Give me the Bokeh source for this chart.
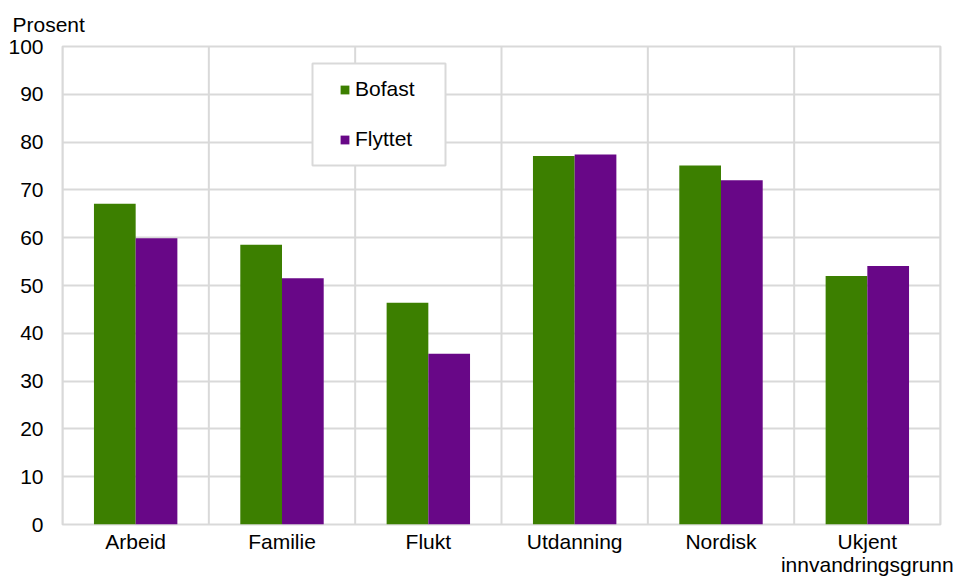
from bokeh.plotting import figure
from bokeh.models import (ColumnDataSource, FactorRange, Range1d, Span, Legend,
                          LegendItem, FixedTicker, Title, BoxAnnotation)
from bokeh.transform import dodge
from bokeh.embed import file_html
from bokeh.resources import INLINE

categories = ["Arbeid", "Familie", "Flukt", "Utdanning", "Nordisk", "Ukjent\ninnvandringsgrunn"]
bofast = [67.1, 58.5, 46.4, 77.1, 75.1, 52.0]
flyttet = [59.9, 51.5, 35.7, 77.4, 72.0, 54.1]
y_ticks = [0, 10, 20, 30, 40, 50, 60, 70, 80, 90, 100]
series_names = ["Bofast", "Flyttet"]
unit_label = "Prosent"

GREEN = "#3c7f00"
PURPLE = "#680787"
GRID = "#d9d9d9"
FONT = "Liberation Sans"
FS = "21px"

W, H = 957, 578
B_LEFT, B_RIGHT, B_TOP, B_BOTTOM = 62, 17, 46, 54

src = ColumnDataSource(dict(cat=categories, bofast=bofast, flyttet=flyttet))

p = figure(x_range=FactorRange(*categories, range_padding=0),
           y_range=Range1d(0, 100),
           width=W, height=H, output_backend="svg", toolbar_location=None,
           min_border_left=B_LEFT, min_border_right=B_RIGHT,
           min_border_top=B_TOP, min_border_bottom=B_BOTTOM)

bw = 0.285
r1 = p.vbar(x=dodge("cat", -bw / 2, range=p.x_range), top="bofast", width=bw,
            source=src, fill_color=GREEN, line_color=None)
r2 = p.vbar(x=dodge("cat", bw / 2, range=p.x_range), top="flyttet", width=bw,
            source=src, fill_color=PURPLE, line_color=None)

# grid
p.xgrid.grid_line_color = None
p.ygrid.ticker = FixedTicker(ticks=y_ticks)
p.ygrid.grid_line_color = GRID
p.ygrid.grid_line_width = 2
for i in range(len(categories) + 1):
    p.add_layout(Span(location=i, dimension="height", line_color=GRID, line_width=2))
p.outline_line_color = GRID
p.outline_line_width = 2

# axes
p.yaxis.ticker = FixedTicker(ticks=y_ticks)
for ax in (p.xaxis[0], p.yaxis[0]):
    ax.axis_line_color = None
    ax.major_tick_line_color = None
    ax.minor_tick_line_color = None
    ax.major_tick_out = 0
    ax.major_tick_in = 0
    ax.minor_tick_out = 0
    ax.minor_tick_in = 0
    ax.major_label_text_font = FONT
    ax.major_label_text_font_size = FS
    ax.major_label_text_color = "#000000"
p.yaxis.major_label_standoff = 19
p.xaxis.major_label_standoff = 5
p.xaxis.major_label_text_line_height = 1.02

frame_h = H - B_TOP - B_BOTTOM

# unit title above the value axis
t = Title(text=unit_label, align="left", offset=-50, text_font=FONT,
          text_font_size=FS, text_font_style="normal", text_color="#000000",
          standoff=20, vertical_align="middle")
p.add_layout(t, "above")

# legend frame (drawn behind the legend entries)
box = BoxAnnotation(left=250, right=383, top=frame_h - 17, bottom=frame_h - 119,
                    left_units="screen", right_units="screen",
                    top_units="screen", bottom_units="screen",
                    fill_color="white", fill_alpha=1,
                    line_color=GRID, line_width=2, line_alpha=1)
p.add_layout(box)

legend = Legend(items=[LegendItem(label=series_names[0], renderers=[r1]),
                       LegendItem(label=series_names[1], renderers=[r2])],
                location=(277, frame_h - 105), orientation="vertical",
                padding=0, spacing=26, glyph_width=11, glyph_height=11,
                label_standoff=5,
                label_text_font=FONT, label_text_font_size=FS,
                label_text_color="#000000",
                border_line_color=None,
                background_fill_alpha=0)
p.add_layout(legend, "center")

open("out.html", "w").write(file_html(p, INLINE))
